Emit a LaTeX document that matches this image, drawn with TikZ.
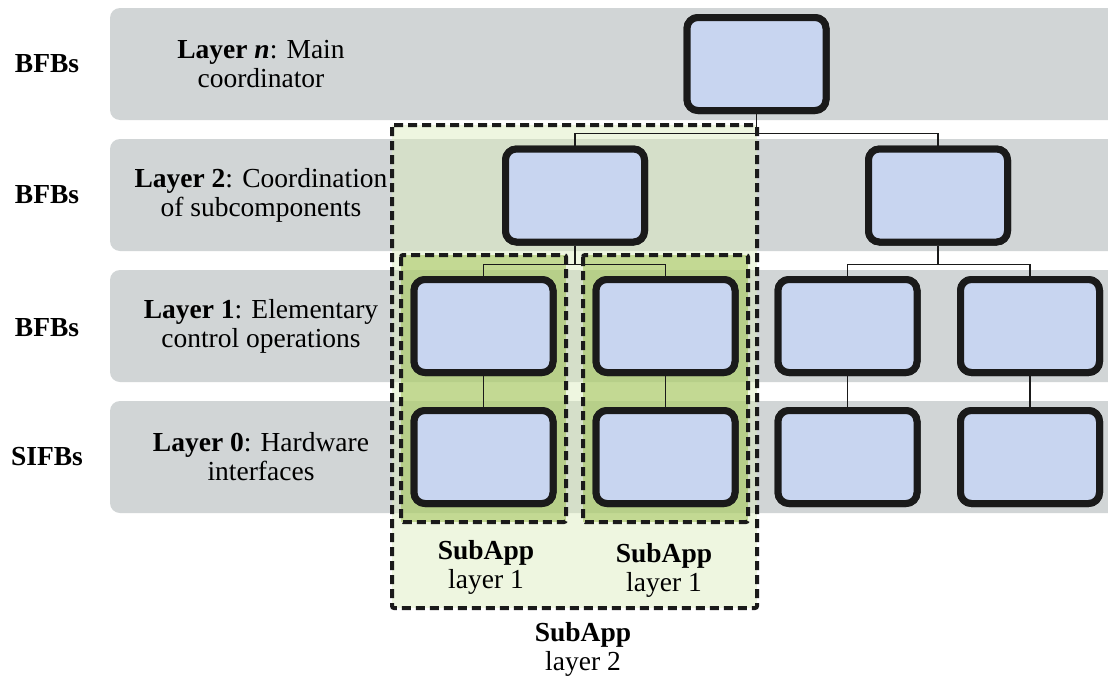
\documentclass[tikz,border=0pt]{standalone}
\usepackage{fontspec}
\setmainfont{Liberation Serif}
\definecolor{bandgray}{RGB}{209,213,214}
\definecolor{fbfill}{RGB}{200,213,240}
\definecolor{fbline}{RGB}{26,26,26}
\definecolor{appouter}{RGB}{218,237,187}
\definecolor{appinner}{RGB}{160,194,85}
\begin{document}
\begin{tikzpicture}[x=1pt,y=-1pt,
  band/.style={fill=bandgray,draw=none,rounded corners=10pt},
  fb/.style={draw=fbline,fill=fbfill,line width=7pt,rounded corners=11pt,
    minimum width=139pt,minimum height=93pt,inner sep=0pt},
  conn/.style={draw=fbline,line width=1.5pt},
  appbox/.style={draw=fbline,line width=4pt,dash pattern=on 9pt off 5pt,rounded corners=2pt},
  txt/.style={font=\fontsize{27.5}{29}\selectfont,align=center,inner sep=0pt},
]
\useasboundingbox (0,0) rectangle (1108,680);
\fill[white] (0,0) rectangle (1108,680);

% layer bands
\fill[band] (110,8)   rectangle (1140,120);
\fill[band] (110,139) rectangle (1140,251);
\fill[band] (110,270) rectangle (1140,382);
\fill[band] (110,401) rectangle (1140,513);

% subapplication areas
\fill[appouter,fill opacity=0.45] (392,125) rectangle (757,608);
\fill[appinner,fill opacity=0.55] (401,255) rectangle (566,522);
\fill[appinner,fill opacity=0.55] (583,255) rectangle (748,522);

% function blocks
\node[fb] (top) at (756.5,64) {};
\node[fb] (l2a) at (575,195.5) {};
\node[fb] (l2b) at (938,195.5) {};
\node[fb] (l1a) at (483.5,326) {};
\node[fb] (l1b) at (665.5,326) {};
\node[fb] (l1c) at (847.5,326) {};
\node[fb] (l1d) at (1030,326) {};
\node[fb] (l0a) at (483.5,457) {};
\node[fb] (l0b) at (665.5,457) {};
\node[fb] (l0c) at (847.5,457) {};
\node[fb] (l0d) at (1030,457) {};

% hierarchy connectors
\draw[conn] (top.south) -- ++(0,19.5) -| (l2a.north);
\draw[conn] (top.south) -- ++(0,19.5) -| (l2b.north);
\draw[conn] (l2a.south) -- ++(0,19) -| (l1a.north);
\draw[conn] (l2a.south) -- ++(0,19) -| (l1b.north);
\draw[conn] (l2b.south) -- ++(0,19) -| (l1c.north);
\draw[conn] (l2b.south) -- ++(0,19) -| (l1d.north);
\draw[conn] (l1a) -- (l0a);
\draw[conn] (l1b) -- (l0b);
\draw[conn] (l1c) -- (l0c);
\draw[conn] (l1d) -- (l0d);
\foreach \n in {top,l2a,l2b,l1a,l1b,l1c,l1d,l0a,l0b,l0c,l0d}
  \node[fb] at (\n) {};

% subapplication outlines
\draw[appbox] (392,125) rectangle (757,608);
\draw[appbox] (401,255) rectangle (566,522);
\draw[appbox] (583,255) rectangle (748,522);

% block type labels
\node[txt] (tn) at (47,64)  {\textbf{BFBs}};
\node[txt] (t2) at (47,195) {\textbf{BFBs}};
\node[txt] (t1) at (47,328) {\textbf{BFBs}};
\node[txt] (t0) at (47,457) {\textbf{SIFBs}};

% layer descriptions
\node[txt] (dn) at (261,64)  {\textbf{Layer \textit{n}}: Main\\coordinator};
\node[txt] (d2) at (261,195) {\textbf{Layer 2}: Coordination\\of subcomponents};
\node[txt] (d1) at (261,326) {\textbf{Layer 1}: Elementary\\control operations};
\node[txt] (d0) at (261,457) {\textbf{Layer 0}: Hardware\\interfaces};

% subapplication captions
\node[txt] (sa) at (486,567)   {\textbf{SubApp}\\layer 1};
\node[txt] (sb) at (664,570.5) {\textbf{SubApp}\\layer 1};
\node[txt] (sc) at (583,649)   {\textbf{SubApp}\\layer 2};
\end{tikzpicture}
\end{document}
